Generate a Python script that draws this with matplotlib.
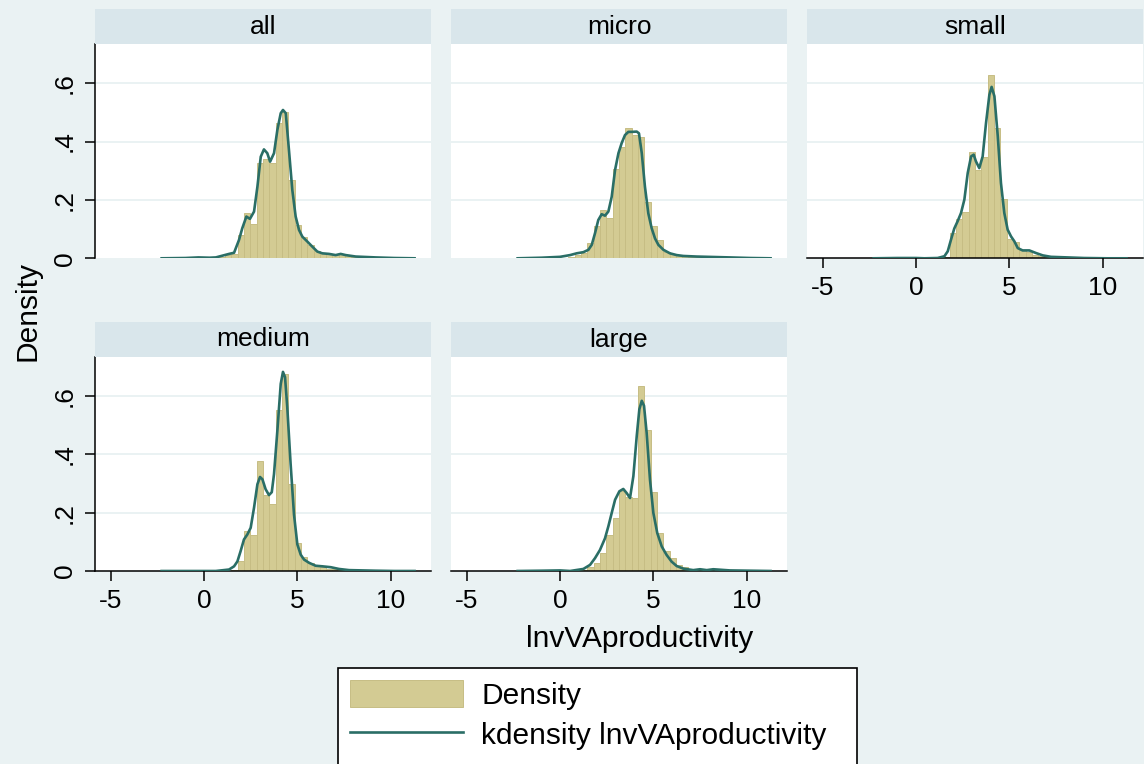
import numpy as np
import matplotlib
matplotlib.use('Agg')
import matplotlib.pyplot as plt
from matplotlib.patches import Rectangle

# ---------------- data ----------------
panels = ['all', 'micro', 'small', 'medium', 'large']

bin_edges = [0.442, 0.781, 1.120, 1.459, 1.798, 2.137, 2.476, 2.815, 3.154, 3.493,
             3.832, 4.171, 4.510, 4.849, 5.188, 5.527, 5.866, 6.205, 6.544, 6.883,
             7.222, 7.561, 7.900, 8.239]

hist_all = [0.003, 0.005, 0.010, 0.015, 0.080, 0.154, 0.118, 0.325, 0.339, 0.328,
            0.462, 0.500, 0.268, 0.114, 0.074, 0.046, 0.026, 0.019, 0.014, 0.011,
            0.015, 0.010, 0.006]
hist_micro = [0.005, 0.010, 0.019, 0.051, 0.111, 0.166, 0.137, 0.305, 0.380, 0.445,
              0.422, 0.417, 0.192, 0.111, 0.063, 0.023, 0.015, 0.011, 0.008, 0.006,
              0.004, 0.003, 0.002]
hist_small = [0.000, 0.001, 0.002, 0.003, 0.088, 0.134, 0.160, 0.363, 0.303, 0.346,
              0.628, 0.445, 0.202, 0.066, 0.057, 0.029, 0.020, 0.012, 0.008, 0.005,
              0.003, 0.002, 0.001]
hist_medium = [0.000, 0.000, 0.001, 0.004, 0.033, 0.137, 0.122, 0.378, 0.259, 0.231,
               0.550, 0.676, 0.297, 0.096, 0.047, 0.026, 0.017, 0.013, 0.008, 0.006,
               0.004, 0.003, 0.002]
hist_large = [0.001, 0.003, 0.005, 0.013, 0.026, 0.060, 0.124, 0.180, 0.273, 0.252,
              0.250, 0.632, 0.482, 0.270, 0.130, 0.069, 0.044, 0.020, 0.012, 0.008,
              0.006, 0.005, 0.004]

kde_x_all = [-2.27, -1.0, -0.3, 0.3, 0.63, 1.34, 1.61, 1.875, 2.05, 2.27, 2.46, 2.68,
             2.86, 3.04, 3.21, 3.39, 3.54, 3.75, 3.93, 4.11, 4.23, 4.38, 4.55, 4.73,
             4.91, 5.09, 5.27, 5.54, 5.80, 6.07, 6.34, 6.70, 7.05, 7.32, 7.59, 8.13,
             9.2, 10.2, 11.28]
kde_y_all = [0.000, 0.001, 0.003, 0.002, 0.003, 0.015, 0.019, 0.063, 0.103, 0.143,
             0.135, 0.160, 0.245, 0.348, 0.373, 0.360, 0.331, 0.360, 0.440, 0.497,
             0.508, 0.497, 0.371, 0.234, 0.143, 0.097, 0.074, 0.057, 0.040, 0.023,
             0.017, 0.015, 0.011, 0.015, 0.011, 0.006, 0.003, 0.001, 0.000]

kde_x_micro = [-2.27, -1.0, 0.0, 0.54, 0.89, 1.25, 1.52, 1.70, 1.875, 2.05, 2.23,
               2.41, 2.59, 2.77, 2.95, 3.13, 3.30, 3.48, 3.66, 3.84, 4.11, 4.23,
               4.38, 4.55, 4.73, 4.91, 5.09, 5.27, 5.54, 5.89, 6.25, 6.61, 7.32,
               9.1, 10.2, 11.28]
kde_y_micro = [0.000, 0.002, 0.005, 0.011, 0.017, 0.021, 0.029, 0.046, 0.086, 0.131,
               0.151, 0.146, 0.160, 0.211, 0.303, 0.360, 0.394, 0.422, 0.433, 0.433,
               0.434, 0.428, 0.360, 0.245, 0.154, 0.103, 0.068, 0.046, 0.029, 0.017,
               0.011, 0.008, 0.006, 0.003, 0.001, 0.000]

kde_x_small = [-2.27, -1.0, 0.0, 0.45, 1.16, 1.52, 1.70, 1.875, 2.05, 2.23, 2.41,
               2.59, 2.77, 2.95, 3.09, 3.21, 3.39, 3.57, 3.75, 3.93, 4.05, 4.20,
               4.38, 4.55, 4.73, 4.91, 5.09, 5.27, 5.45, 5.71, 6.07, 6.43, 6.79,
               7.23, 9.0, 10.2, 11.28]
kde_y_small = [0.000, 0.001, 0.001, 0.000, 0.001, 0.007, 0.024, 0.064, 0.102, 0.127,
               0.155, 0.201, 0.292, 0.349, 0.355, 0.332, 0.309, 0.349, 0.463, 0.560,
               0.587, 0.555, 0.418, 0.258, 0.155, 0.098, 0.075, 0.058, 0.035, 0.027,
               0.027, 0.018, 0.010, 0.005, 0.001, 0.000, 0.000]

kde_x_medium = [-2.27, -1.0, 0.0, 0.63, 1.34, 1.61, 1.79, 1.96, 2.14, 2.32, 2.50,
                2.68, 2.86, 3.00, 3.13, 3.30, 3.48, 3.63, 3.75, 3.93, 4.11, 4.23,
                4.34, 4.46, 4.64, 4.82, 5.00, 5.18, 5.36, 5.63, 5.98, 6.34, 6.79,
                7.23, 7.77, 9.2, 10.2, 11.28]
kde_y_medium = [0.000, 0.000, 0.000, 0.000, 0.005, 0.016, 0.033, 0.068, 0.108, 0.125,
                0.148, 0.217, 0.297, 0.322, 0.314, 0.280, 0.260, 0.270, 0.332, 0.481,
                0.641, 0.682, 0.664, 0.561, 0.366, 0.194, 0.091, 0.056, 0.039, 0.028,
                0.018, 0.016, 0.013, 0.007, 0.003, 0.001, 0.000, 0.000]

kde_x_large = [-2.27, -1.0, 0.0, 0.54, 1.25, 1.61, 1.875, 2.14, 2.41, 2.59, 2.77,
               2.95, 3.18, 3.39, 3.57, 3.75, 3.93, 4.11, 4.25, 4.38, 4.50, 4.64,
               4.82, 5.00, 5.21, 5.45, 5.71, 5.98, 6.25, 6.61, 7.14, 7.50, 7.86,
               8.21, 9.1, 10.2, 11.28]
kde_y_large = [0.000, 0.001, 0.002, 0.000, 0.007, 0.021, 0.044, 0.072, 0.112, 0.153,
               0.199, 0.244, 0.273, 0.281, 0.267, 0.250, 0.325, 0.462, 0.554, 0.583,
               0.566, 0.474, 0.313, 0.199, 0.130, 0.084, 0.055, 0.032, 0.017, 0.008,
               0.003, 0.006, 0.003, 0.006, 0.002, 0.001, 0.000]

hist_data = {'all': hist_all, 'micro': hist_micro, 'small': hist_small,
             'medium': hist_medium, 'large': hist_large}
kde_data = {'all': (kde_x_all, kde_y_all), 'micro': (kde_x_micro, kde_y_micro),
            'small': (kde_x_small, kde_y_small), 'medium': (kde_x_medium, kde_y_medium),
            'large': (kde_x_large, kde_y_large)}

xtick_vals = [-5, 0, 5, 10]
xtick_labels = ['-5', '0', '5', '10']
ytick_vals = [0, 0.2, 0.4, 0.6]
ytick_labels = ['0', '.2', '.4', '.6']

# ---------------- style ----------------
plt.rcParams['font.family'] = ['Liberation Sans', 'DejaVu Sans']
BG = '#EAF2F3'
STRIP = '#D9E6EB'
GRID = '#EAF2F3'
BAR_FC = '#D3CB93'
BAR_EC = '#C6BD84'
LINE_C = '#2A6E66'
FS = 19.0
FS_BIG = 21.5

W, H = 1144, 764
fig = plt.figure(figsize=(W / 100, H / 100), dpi=100, facecolor=BG)


def rect(x0, y0, w, h):
    return [x0 / W, 1 - (y0 + h) / H, w / W, h / H]


col_x = [95, 451, 807]
row_top = [44.3, 357.0]
AX_W, AX_H, STRIP_H = 336, 214, 35
positions = {'all': (0, 0), 'micro': (0, 1), 'small': (0, 2),
             'medium': (1, 0), 'large': (1, 1)}
xaxis_on = {'all': False, 'micro': False, 'small': True, 'medium': True, 'large': True}

widths = np.diff(bin_edges)
bar_handle = None
line_handle = None
for name in panels:
    r, c = positions[name]
    x0, y0 = col_x[c], row_top[r]
    ax = fig.add_axes(rect(x0, y0, AX_W, AX_H))
    ax.set_facecolor('white')
    ax.set_xlim(-5.84, 12.16)
    ax.set_ylim(0, 0.733)
    for yv in ytick_vals[1:]:
        ax.axhline(yv, color=GRID, lw=1.4, zorder=0.5)
    bars = ax.bar(bin_edges[:-1], hist_data[name], width=widths, align='edge',
                  color=BAR_FC, edgecolor=BAR_EC, linewidth=0.7, zorder=2)
    kx, ky = kde_data[name]
    ln, = ax.plot(kx, ky, color=LINE_C, lw=1.9, zorder=3, solid_joinstyle='round')
    if bar_handle is None:
        bar_handle, line_handle = bars, ln
    for s in ['top', 'right']:
        ax.spines[s].set_visible(False)
    ax.spines['left'].set_visible(c == 0)
    ax.spines['bottom'].set_visible(xaxis_on[name])
    ax.spines['left'].set_linewidth(1.1)
    ax.spines['bottom'].set_linewidth(1.1)
    if c == 0:
        ax.set_yticks(ytick_vals)
        ax.set_yticklabels(ytick_labels, rotation=90, va='center')
        ax.tick_params(axis='y', length=7, width=1.1, pad=6, labelsize=FS)
    else:
        ax.set_yticks([])
    if xaxis_on[name]:
        ax.set_xticks(xtick_vals)
        ax.set_xticklabels(xtick_labels)
        ax.tick_params(axis='x', length=7, width=1.1, pad=6, labelsize=FS)
    else:
        ax.set_xticks([])
    # strip
    sax = fig.add_axes(rect(x0, y0 - STRIP_H, AX_W, STRIP_H))
    sax.set_facecolor(STRIP)
    sax.set_xticks([])
    sax.set_yticks([])
    for s in sax.spines.values():
        s.set_visible(False)
    sax.text(0.5, 0.5, name, ha='center', va='center', fontsize=FS,
             transform=sax.transAxes)

fig.text(27 / W, 1 - 311 / H, 'Density', rotation=90, ha='center', va='center',
         fontsize=FS_BIG)
fig.text(640 / W, 1 - 639 / H, 'lnvVAproductivity', ha='center', va='center',
         fontsize=FS_BIG)

# legend box
frame = Rectangle((338 / W, 1 - 772 / H), 519 / W, 104 / H, transform=fig.transFigure,
                  facecolor='white', edgecolor='black', linewidth=1.2, zorder=1)
fig.patches.append(frame)
leg = fig.legend([bar_handle, line_handle], ['Density', 'kdensity lnvVAproductivity'],
                 loc='upper left', bbox_to_anchor=(338 / W, 1 - 668 / H),
                 frameon=False, fontsize=FS_BIG, handlelength=3.8, handleheight=1.0,
                 handletextpad=0.6, borderpad=0.4, labelspacing=0.35,
                 borderaxespad=0)
leg.set_zorder(2)

fig.savefig('out.png', dpi=100, facecolor=BG)
